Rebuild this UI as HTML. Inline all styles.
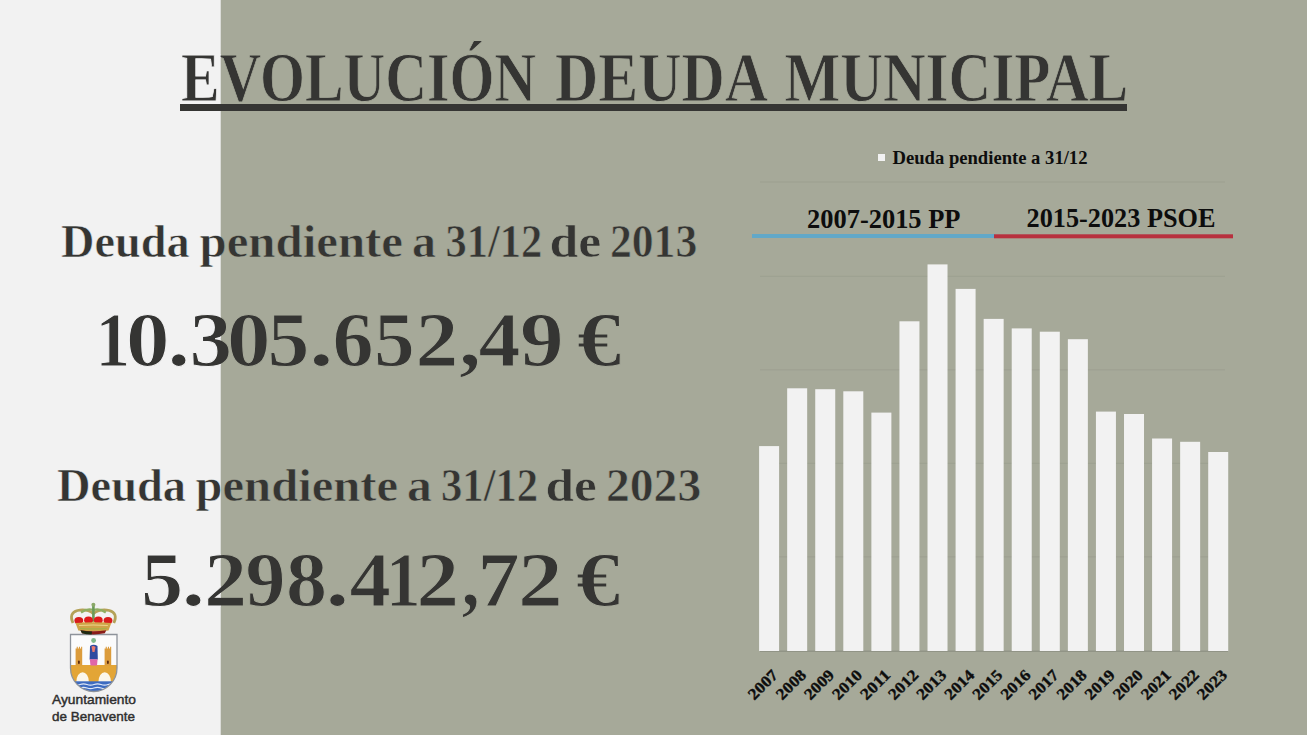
<!DOCTYPE html>
<html><head><meta charset="utf-8"><style>
html,body{margin:0;padding:0;width:1307px;height:735px;overflow:hidden;background:#a6a999;}
svg{display:block;}
.serif{font-family:"Liberation Serif",serif;font-weight:bold;}
</style></head><body>
<svg width="1307" height="735" viewBox="0 0 1307 735">
<rect x="0" y="0" width="1307" height="735" fill="#a6a999"/>
<rect x="0" y="0" width="220.7" height="735" fill="#f2f2f2"/>
<defs>
<linearGradient id="bgp" gradientUnits="userSpaceOnUse" x1="0" y1="0" x2="1307" y2="0"><stop offset="0.16886" stop-color="#f2f2f2"/><stop offset="0.16886" stop-color="#a6a999"/></linearGradient>
<g id="T" class="serif" fill="#353533"><text x="181.00" y="100.9" font-size="70.5" stroke-width="0.8" textLength="355.02" lengthAdjust="spacingAndGlyphs">EVOLUCIÓN</text>
<text x="555.00" y="100.9" font-size="70.5" stroke-width="0.8" textLength="213.02" lengthAdjust="spacingAndGlyphs">DEUDA</text>
<text x="784.50" y="100.9" font-size="70.5" stroke-width="0.8" textLength="343.55" lengthAdjust="spacingAndGlyphs">MUNICIPAL</text>
<text x="61.00" y="257" font-size="46" stroke-width="0.6" textLength="128.56" lengthAdjust="spacingAndGlyphs">Deuda</text>
<text x="199.50" y="257" font-size="46" stroke-width="0.6" textLength="203.55" lengthAdjust="spacingAndGlyphs">pendiente</text>
<text x="412.00" y="257" font-size="46" stroke-width="0.6" textLength="23.98" lengthAdjust="spacingAndGlyphs">a</text>
<text x="445.50" y="257" font-size="46" stroke-width="0.6" textLength="96.71" lengthAdjust="spacingAndGlyphs">31/12</text>
<text x="549.50" y="257" font-size="46" stroke-width="0.6" textLength="51.83" lengthAdjust="spacingAndGlyphs">de</text>
<text x="610.00" y="257" font-size="46" stroke-width="0.6" textLength="87.22" lengthAdjust="spacingAndGlyphs">2013</text>
<text x="57.00" y="500.5" font-size="46" stroke-width="0.6" textLength="129.08" lengthAdjust="spacingAndGlyphs">Deuda</text>
<text x="195.50" y="500.5" font-size="46" stroke-width="0.6" textLength="202.54" lengthAdjust="spacingAndGlyphs">pendiente</text>
<text x="407.00" y="500.5" font-size="46" stroke-width="0.6" textLength="24.92" lengthAdjust="spacingAndGlyphs">a</text>
<text x="441.00" y="500.5" font-size="46" stroke-width="0.6" textLength="97.19" lengthAdjust="spacingAndGlyphs">31/12</text>
<text x="545.50" y="500.5" font-size="46" stroke-width="0.6" textLength="51.31" lengthAdjust="spacingAndGlyphs">de</text>
<text x="606.00" y="500.5" font-size="46" stroke-width="0.6" textLength="95.20" lengthAdjust="spacingAndGlyphs">2023</text>
<text x="95.50" y="366" font-size="78" stroke-width="1.0" textLength="34.59" lengthAdjust="spacingAndGlyphs">1</text>
<text x="126.00" y="366" font-size="78" stroke-width="1.0" textLength="43.50" lengthAdjust="spacingAndGlyphs">0</text>
<text x="167.50" y="366" font-size="78" stroke-width="1.0" textLength="22.50" lengthAdjust="spacingAndGlyphs">.</text>
<text x="189.50" y="366" font-size="78" stroke-width="1.0" textLength="42.52" lengthAdjust="spacingAndGlyphs">3</text>
<text x="227.00" y="366" font-size="78" stroke-width="1.0" textLength="43.50" lengthAdjust="spacingAndGlyphs">0</text>
<text x="267.50" y="366" font-size="78" stroke-width="1.0" textLength="41.91" lengthAdjust="spacingAndGlyphs">5</text>
<text x="309.00" y="366" font-size="78" stroke-width="1.0" textLength="24.55" lengthAdjust="spacingAndGlyphs">.</text>
<text x="332.50" y="366" font-size="78" stroke-width="1.0" textLength="41.07" lengthAdjust="spacingAndGlyphs">6</text>
<text x="374.00" y="366" font-size="78" stroke-width="1.0" textLength="40.70" lengthAdjust="spacingAndGlyphs">5</text>
<text x="415.50" y="366" font-size="78" stroke-width="1.0" textLength="42.84" lengthAdjust="spacingAndGlyphs">2</text>
<text x="459.00" y="366" font-size="78" stroke-width="1.0" textLength="22.01" lengthAdjust="spacingAndGlyphs">,</text>
<text x="478.50" y="366" font-size="78" stroke-width="1.0" textLength="41.94" lengthAdjust="spacingAndGlyphs">4</text>
<text x="520.00" y="366" font-size="78" stroke-width="1.0" textLength="43.58" lengthAdjust="spacingAndGlyphs">9</text>
<text x="577.00" y="366" font-size="78" stroke-width="1.0" textLength="44.34" lengthAdjust="spacingAndGlyphs">€</text>
<text x="141.00" y="605.5" font-size="78" stroke-width="1.0" textLength="42.24" lengthAdjust="spacingAndGlyphs">5</text>
<text x="181.50" y="605.5" font-size="78" stroke-width="1.0" textLength="23.68" lengthAdjust="spacingAndGlyphs">.</text>
<text x="204.00" y="605.5" font-size="78" stroke-width="1.0" textLength="43.14" lengthAdjust="spacingAndGlyphs">2</text>
<text x="245.50" y="605.5" font-size="78" stroke-width="1.0" textLength="39.91" lengthAdjust="spacingAndGlyphs">9</text>
<text x="286.00" y="605.5" font-size="78" stroke-width="1.0" textLength="41.06" lengthAdjust="spacingAndGlyphs">8</text>
<text x="325.50" y="605.5" font-size="78" stroke-width="1.0" textLength="23.69" lengthAdjust="spacingAndGlyphs">.</text>
<text x="349.50" y="605.5" font-size="78" stroke-width="1.0" textLength="41.37" lengthAdjust="spacingAndGlyphs">4</text>
<text x="386.00" y="605.5" font-size="78" stroke-width="1.0" textLength="34.59" lengthAdjust="spacingAndGlyphs">1</text>
<text x="416.50" y="605.5" font-size="78" stroke-width="1.0" textLength="42.52" lengthAdjust="spacingAndGlyphs">2</text>
<text x="461.50" y="605.5" font-size="78" stroke-width="1.0" textLength="18.24" lengthAdjust="spacingAndGlyphs">,</text>
<text x="477.50" y="605.5" font-size="78" stroke-width="1.0" textLength="42.20" lengthAdjust="spacingAndGlyphs">7</text>
<text x="518.00" y="605.5" font-size="78" stroke-width="1.0" textLength="44.71" lengthAdjust="spacingAndGlyphs">2</text>
<text x="576.00" y="605.5" font-size="78" stroke-width="1.0" textLength="44.25" lengthAdjust="spacingAndGlyphs">€</text>
</g>
</defs>
<use href="#T" stroke="url(#bgp)"/>
<rect x="180" y="104" width="947" height="7" fill="#353533"/>
<g fill="#9ea192"><rect x="760" y="181.4" width="465" height="1.2"/><rect x="760" y="275.7" width="465" height="1.2"/><rect x="760" y="369.2" width="465" height="1.2"/><rect x="760" y="462.7" width="465" height="1.2"/><rect x="760" y="556.2" width="465" height="1.2"/></g>
<rect x="760" y="650.6" width="468" height="1.3" fill="#8f9284"/>
<g fill="#f2f2f2"><rect x="759.10" y="446.1" width="20" height="204.9"/><rect x="787.17" y="388.3" width="20" height="262.7"/><rect x="815.24" y="389.2" width="20" height="261.8"/><rect x="843.31" y="391.3" width="20" height="259.7"/><rect x="871.38" y="412.6" width="20" height="238.4"/><rect x="899.45" y="321.3" width="20" height="329.7"/><rect x="927.52" y="264.4" width="20" height="386.6"/><rect x="955.59" y="288.9" width="20" height="362.1"/><rect x="983.66" y="318.9" width="20" height="332.1"/><rect x="1011.73" y="328.4" width="20" height="322.6"/><rect x="1039.80" y="331.7" width="20" height="319.3"/><rect x="1067.87" y="339.2" width="20" height="311.8"/><rect x="1095.94" y="411.6" width="20" height="239.4"/><rect x="1124.01" y="414.0" width="20" height="237.0"/><rect x="1152.08" y="438.5" width="20" height="212.5"/><rect x="1180.15" y="441.8" width="20" height="209.2"/><rect x="1208.22" y="452.0" width="20" height="199.0"/></g>
<rect x="878" y="154" width="7" height="7" fill="#f2f2f2"/>
<g class="serif" fill="#0d0d0d">
<text x="892.5" y="164.3" font-size="18.5" textLength="195" lengthAdjust="spacingAndGlyphs">Deuda pendiente a 31/12</text>
<text x="807" y="227.5" font-size="27.5" textLength="153.5" lengthAdjust="spacingAndGlyphs">2007-2015 PP</text>
<text x="1026.5" y="227" font-size="27.5" textLength="189" lengthAdjust="spacingAndGlyphs">2015-2023 PSOE</text>
</g>
<rect x="752" y="234" width="243" height="4" fill="#62a8c8"/>
<rect x="994" y="234.3" width="239" height="4" fill="#b8303e"/>
<g class="serif" fill="#0d0d0d" stroke="#0d0d0d" stroke-width="0.35" font-size="16"><text transform="translate(779.00,676) rotate(-45)" text-anchor="end" textLength="35" lengthAdjust="spacingAndGlyphs">2007</text><text transform="translate(807.07,676) rotate(-45)" text-anchor="end" textLength="35" lengthAdjust="spacingAndGlyphs">2008</text><text transform="translate(835.14,676) rotate(-45)" text-anchor="end" textLength="35" lengthAdjust="spacingAndGlyphs">2009</text><text transform="translate(863.21,676) rotate(-45)" text-anchor="end" textLength="35" lengthAdjust="spacingAndGlyphs">2010</text><text transform="translate(891.28,676) rotate(-45)" text-anchor="end" textLength="35" lengthAdjust="spacingAndGlyphs">2011</text><text transform="translate(919.35,676) rotate(-45)" text-anchor="end" textLength="35" lengthAdjust="spacingAndGlyphs">2012</text><text transform="translate(947.42,676) rotate(-45)" text-anchor="end" textLength="35" lengthAdjust="spacingAndGlyphs">2013</text><text transform="translate(975.49,676) rotate(-45)" text-anchor="end" textLength="35" lengthAdjust="spacingAndGlyphs">2014</text><text transform="translate(1003.56,676) rotate(-45)" text-anchor="end" textLength="35" lengthAdjust="spacingAndGlyphs">2015</text><text transform="translate(1031.63,676) rotate(-45)" text-anchor="end" textLength="35" lengthAdjust="spacingAndGlyphs">2016</text><text transform="translate(1059.70,676) rotate(-45)" text-anchor="end" textLength="35" lengthAdjust="spacingAndGlyphs">2017</text><text transform="translate(1087.77,676) rotate(-45)" text-anchor="end" textLength="35" lengthAdjust="spacingAndGlyphs">2018</text><text transform="translate(1115.84,676) rotate(-45)" text-anchor="end" textLength="35" lengthAdjust="spacingAndGlyphs">2019</text><text transform="translate(1143.91,676) rotate(-45)" text-anchor="end" textLength="35" lengthAdjust="spacingAndGlyphs">2020</text><text transform="translate(1171.98,676) rotate(-45)" text-anchor="end" textLength="35" lengthAdjust="spacingAndGlyphs">2021</text><text transform="translate(1200.05,676) rotate(-45)" text-anchor="end" textLength="35" lengthAdjust="spacingAndGlyphs">2022</text><text transform="translate(1228.12,676) rotate(-45)" text-anchor="end" textLength="35" lengthAdjust="spacingAndGlyphs">2023</text></g>
<g>
<defs><clipPath id="sh"><path d="M70.5,634.5 H117 V668 A23.25,23.5 0 0 1 70.5,668 Z"/></clipPath></defs>
<path d="M70.5,634.5 H117 V668 A23.25,23.5 0 0 1 70.5,668 Z" fill="#fbfbfb"/>
<g clip-path="url(#sh)">
  <rect x="60" y="665" width="70" height="17" fill="#e3a536"/>
  <ellipse cx="82.6" cy="682" rx="6.3" ry="9.8" fill="#fbf6ea"/>
  <ellipse cx="104.7" cy="682" rx="6.3" ry="9.8" fill="#fbf6ea"/>
  <rect x="60" y="681.3" width="70" height="12" fill="#3d6bc0"/>
  <path d="M66,684.5 q3.5,-1.2 7,0 t7,0 t7,0 t7,0 t7,0 t7,0 t7,0" stroke="#dfe8f8" stroke-width="1.1" fill="none"/>
  <path d="M66,688 q3.5,-1.2 7,0 t7,0 t7,0 t7,0 t7,0 t7,0 t7,0" stroke="#dfe8f8" stroke-width="1.1" fill="none"/>
  <path d="M75.6,665.5 V648.5 h1.1 v-1.8 h1.1 v1.8 h1.1 v-1.8 h1.1 v1.8 h1.1 v-1.8 h1.1 V665.5 Z" fill="#dc9c3c"/>
  <path d="M104.6,665.5 V648.5 h1.1 v-1.8 h1.1 v1.8 h1.1 v-1.8 h1.1 v1.8 h1.1 v-1.8 h1.1 V665.5 Z" fill="#dc9c3c"/>
  <rect x="78" y="660.5" width="1.8" height="3.5" rx="0.9" fill="#5a2a10"/>
  <rect x="107" y="660.5" width="1.8" height="3.5" rx="0.9" fill="#5a2a10"/>
  <circle cx="93.6" cy="640.5" r="2.4" fill="#7fb88a"/>
  <path d="M90,646 Q93.5,643.5 97.5,646 L97.8,659.5 H89.6 Z" fill="#2f4aa0"/>
  <path d="M91.5,646.5 Q93.5,645.5 95.5,647 L94.5,652 H92.5 Z" fill="#e87a70"/>
  <path d="M89.8,659.3 H97.6 L97,665.5 H90.5 Z" fill="#e066a8"/>
</g>
<path d="M70.5,634.5 H117 V668 A23.25,23.5 0 0 1 70.5,668 Z" fill="none" stroke="#8e939a" stroke-width="1.3"/>
<!-- crown -->
<path d="M73,623 Q68.5,613 77.5,610.5 Q86.5,608.5 93.4,613.5 Q100.3,608.5 109.3,610.5 Q118.3,613 113.8,623" fill="none" stroke="#b4a258" stroke-width="2.8"/>
<path d="M81,612.5 Q87,608 93.4,610 Q99.8,608 105.8,612.5" fill="none" stroke="#8fae62" stroke-width="2.2"/>
<path d="M93.4,606 V622" stroke="#6a9a58" stroke-width="2.6"/>
<circle cx="93.4" cy="604.8" r="2" fill="#8aa868"/>
<ellipse cx="78.8" cy="620.6" rx="4.4" ry="3.6" fill="#d81c1c"/>
<ellipse cx="88.5" cy="620.2" rx="4.4" ry="3.6" fill="#e01a1a"/>
<ellipse cx="98.3" cy="620.2" rx="4.4" ry="3.6" fill="#e01a1a"/>
<ellipse cx="108" cy="620.6" rx="4.4" ry="3.6" fill="#d81c1c"/>
<circle cx="83.6" cy="622.8" r="1" fill="#f0d070"/>
<circle cx="93.4" cy="622.6" r="1" fill="#f0d070"/>
<circle cx="103.2" cy="622.8" r="1" fill="#f0d070"/>
<path d="M75.5,623 Q93.4,621.5 111.3,623 L108.5,630.5 Q93.4,632.5 78.3,630.5 Z" fill="#cfa448"/>
<path d="M79,625.5 Q93.4,624.5 107.8,625.5" stroke="#ecd488" stroke-width="1.1" fill="none"/>
<path d="M80,628.3 Q93.4,629.5 106.8,628.3" stroke="#a8b048" stroke-width="1.3" fill="none"/>
<path d="M80.5,630.3 Q93.4,632 106.3,630.3 L104.8,633.3 Q93.4,635.5 82,633.3 Z" fill="#8a1c18"/>
<path d="M80.5,630.3 Q87,631.4 92,631.6 L91.6,634.6 Q86,634.4 82,633.3 Z" fill="#1e2a12"/>
</g>
<g font-family="Liberation Sans, sans-serif" fill="#2e2e2e" stroke="#2e2e2e" stroke-width="0.4" font-size="12.4">
<text x="52" y="704" textLength="84" lengthAdjust="spacingAndGlyphs">Ayuntamiento</text>
<text x="52" y="720.6" textLength="83" lengthAdjust="spacingAndGlyphs">de Benavente</text>
</g>
</svg>
</body></html>
